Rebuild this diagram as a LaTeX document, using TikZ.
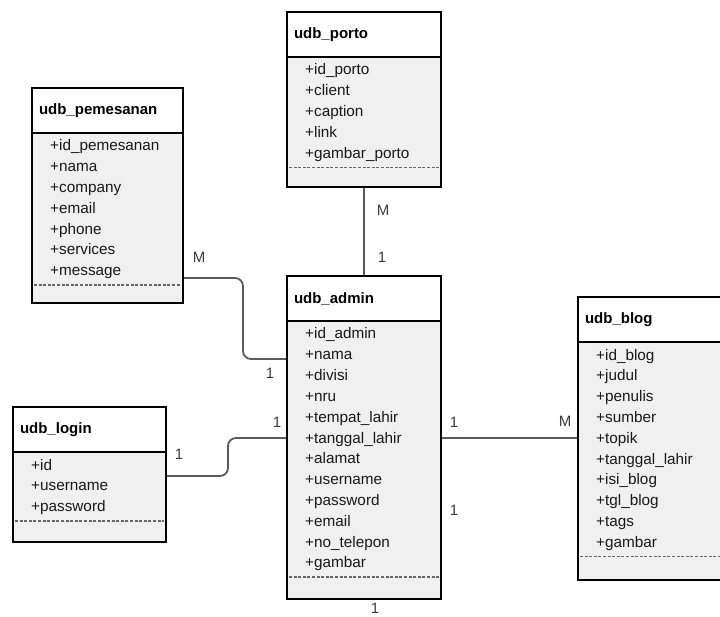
\documentclass[tikz,border=0pt]{standalone}
\usepackage{fontspec}
\setmainfont{Liberation Sans}
\usepackage{tikz}
\usetikzlibrary{positioning,backgrounds}

\definecolor{bodygray}{HTML}{F0F0F0}
\definecolor{linkgray}{HTML}{5A5A5A}
\definecolor{cardgray}{HTML}{3C3C3C}

\begin{document}
\begin{tikzpicture}[
  x=1pt,y=-1pt,
  head/.style={rectangle,draw,fill=white,line width=2.6pt,outer sep=0pt,
    minimum height=45pt,inner xsep=7pt,align=left,anchor=north west,
    font=\fontsize{15}{16}\selectfont\bfseries},
  body/.style={rectangle,draw,fill=bodygray,line width=2.6pt,outer sep=0pt},
  field/.style={inner sep=0pt,text depth=9pt,anchor=base west,text=black!90,
    font=\fontsize{15.3}{18}\selectfont},
  sep/.style={draw=black!60,line width=1.5pt,dash pattern=on 3pt off 1.6pt,
    shorten <=2pt,shorten >=2pt},
  link/.style={draw=linkgray,line width=1.8pt,rounded corners=8pt},
  card/.style={text=cardgray,font=\fontsize{15}{16}\selectfont},
]
\useasboundingbox (0,0) rectangle (720,617);
\clip (0,0) rectangle (720,617);

% tables
\node [head,text width=140pt] (porto) at (287,12) {udb\_porto};
\node [body,minimum width=154pt,minimum height=130pt,below=0pt of porto] (porto-body) {};
\foreach \f [count=\i] in {id\_porto,client,caption,link,gambar\_porto}
  \node [field] (porto-\i) at (305,{75+20.8*(\i-1)}) {+\f};

\node [head,text width=137pt] (pemesanan) at (32,88) {udb\_pemesanan};
\node [body,minimum width=151pt,minimum height=170pt,below=0pt of pemesanan] (pemesanan-body) {};
\foreach \f [count=\i] in {id\_pemesanan,nama,company,email,phone,services,message}
  \node [field] (pemesanan-\i) at (50,{151+20.8*(\i-1)}) {+\f};

\node [head,text width=140pt] (admin) at (287,276) {udb\_admin};
\node [body,minimum width=154pt,minimum height=278pt,below=0pt of admin] (admin-body) {};
\foreach \f [count=\i] in {id\_admin,nama,divisi,nru,tempat\_lahir,tanggal\_lahir,
    alamat,username,password,email,no\_telepon,gambar}
  \node [field] (admin-\i) at (305,{339+20.8*(\i-1)}) {+\f};

\node [head,text width=139pt] (login) at (13,407) {udb\_login};
\node [body,minimum width=153pt,minimum height=90pt,below=0pt of login] (login-body) {};
\foreach \f [count=\i] in {id,username,password}
  \node [field] (login-\i) at (31,{470+20.8*(\i-1)}) {+\f};

\node [head,text width=146pt] (blog) at (578,297) {udb\_blog};
\node [body,minimum width=160pt,minimum height=238pt,below=0pt of blog] (blog-body) {};
\foreach \f [count=\i] in {id\_blog,judul,penulis,sumber,topik,tanggal\_lahir,
    isi\_blog,tgl\_blog,tags,gambar}
  \node [field] (blog-\i) at (596,{360+20.8*(\i-1)}) {+\f};

% empty operation part under the dashes
\foreach \t/\n in {porto/5,pemesanan/7,admin/12,login/3,blog/10}
  \draw [sep] (\t-\n.south -| \t-body.west) -- (\t-\n.south -| \t-body.east);

% relations
\begin{scope}[on background layer]
  \draw [link] (porto-body.south) -- (admin.north);
  \draw [link] ([yshift=-60pt]pemesanan-body.east) -- ++(60,0) |- ([yshift=101pt]admin-body.west);
  \draw [link] ([yshift=21pt]login-body.east) -- ++(62,0) |- ([yshift=22pt]admin-body.west);
  \draw [link] ([yshift=22pt]admin-body.east) -- ([yshift=23pt]blog-body.west);
\end{scope}

% multiplicities
\node [card] (pa-porto) at (383,210) {M};
\node [card] (pa-admin) at (382,257) {1};
\node [card] (pe-pemesanan) at (199,257) {M};
\node [card] (pe-admin) at (270,373) {1};
\node [card] (la-login) at (179,454) {1};
\node [card] (la-admin) at (277,422) {1};
\node [card] (ab-admin) at (454,422) {1};
\node [card] (ab-blog) at (565,421) {M};
\node [card] (ad-right) at (454,510) {1};
\node [card] (ad-below) at (375,608) {1};
\end{tikzpicture}
\end{document}
